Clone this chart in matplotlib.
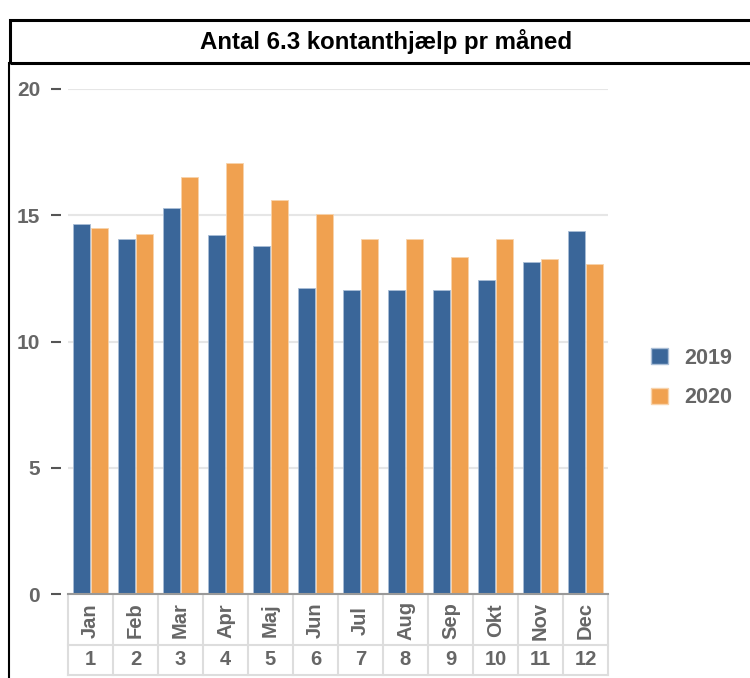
import numpy as np
import matplotlib.pyplot as plt
from matplotlib.patches import Rectangle, Patch

plt.rcParams['font.family'] = ['Liberation Sans', 'DejaVu Sans']

months = ['Jan', 'Feb', 'Mar', 'Apr', 'Maj', 'Jun', 'Jul', 'Aug', 'Sep', 'Okt', 'Nov', 'Dec']
month_nums = ['1', '2', '3', '4', '5', '6', '7', '8', '9', '10', '11', '12']
series_names = ['2019', '2020']
v2019 = [14.65, 14.05, 15.3, 14.2, 13.8, 12.1, 12.04, 12.04, 12.04, 12.45, 13.15, 14.38]
v2020 = [14.5, 14.25, 16.5, 17.05, 15.6, 15.05, 14.06, 14.04, 13.35, 14.04, 13.25, 13.05]
y_ticks = [0, 5, 10, 15, 20]

blue = '#3a6699'
orange = '#f0a150'
grey_txt = '#666666'
cell_col = '#dddddd'

W, H = 750, 678
fig = plt.figure(figsize=(W / 100, H / 100), dpi=100)

# title box
fig.patches.append(Rectangle((10 / W, (H - 63) / H), 760 / W, 43 / H, transform=fig.transFigure,
                             fill=False, edgecolor='black', linewidth=2.2))
fig.add_artist(plt.Line2D([8.5 / W, 8.5 / W], [0, (H - 63) / H], transform=fig.transFigure,
                          color='black', linewidth=1.5))
fig.text(386 / W, (H - 42) / H, 'Antal 6.3 kontanthjælp pr måned', ha='center', va='center',
         fontsize=17.3, fontweight='bold', color='black')

ax = fig.add_axes([68 / W, (H - 594) / H, 540 / W, 505 / H])
x = np.arange(len(months))
bw = 0.36
ax.bar(x - bw / 2 - 0.02, v2019, bw, color=blue, edgecolor='#a9bdd6', linewidth=0.6, zorder=3)
ax.bar(x + bw / 2 + 0.02, v2020, bw, color=orange, edgecolor='#f8d3ab', linewidth=0.6, zorder=3)

for s in ['top', 'right', 'left']:
    ax.spines[s].set_visible(False)
ax.spines['left'].set_position(('outward', 5))
ax.spines['bottom'].set_color('#999999')
ax.spines['bottom'].set_linewidth(1.5)
ax.spines['bottom'].set_zorder(4)

ax.set_xlim(-0.5, len(months) - 0.5)
ax.set_ylim(0, 20)
ax.set_yticks(y_ticks)
ax.set_yticklabels([str(t) for t in y_ticks], fontsize=15, fontweight='bold', color=grey_txt)
ax.yaxis.grid(True, color='#e6e6e6', linewidth=1.5, zorder=0)
ax.set_axisbelow(True)
ax.set_xticks([])
ax.tick_params(axis='y', length=7, width=1.5, color='#555555', pad=8)

# category table under the axis
tr = ax.get_xaxis_transform()
r0, r1, r2 = -0.004, -0.101, -0.160
for b in np.arange(-0.5, len(months), 1.0):
    ax.plot([b, b], [r0, r2], transform=tr, color=cell_col, linewidth=1.5, clip_on=False)
ax.plot([-0.5, len(months) - 0.5], [r1, r1], transform=tr, color=cell_col, linewidth=1.5, clip_on=False)
ax.plot([-0.5, len(months) - 0.5], [r2, r2], transform=tr, color=cell_col, linewidth=1.5, clip_on=False)
for i, (m, n) in enumerate(zip(months, month_nums)):
    ax.text(i, (r0 + r1) / 2, m, transform=tr, rotation=90, ha='center', va='center',
            fontsize=14.5, fontweight='bold', color=grey_txt)
    ax.text(i, (r1 + r2) / 2, n, transform=tr, ha='center', va='center',
            fontsize=14.5, fontweight='bold', color=grey_txt)

handles = [Patch(facecolor=blue, edgecolor='#a9bdd6'), Patch(facecolor=orange, edgecolor='#f8d3ab')]
leg = fig.legend(handles, series_names, loc='center left', bbox_to_anchor=(632 / W, (H - 378) / H),
                 frameon=False, handlelength=0.75, handleheight=0.75, handletextpad=0.8,
                 labelspacing=0.85, prop={'size': 15.5, 'weight': 'bold'})
for t in leg.get_texts():
    t.set_color(grey_txt)

fig.savefig('out.png', dpi=100)
